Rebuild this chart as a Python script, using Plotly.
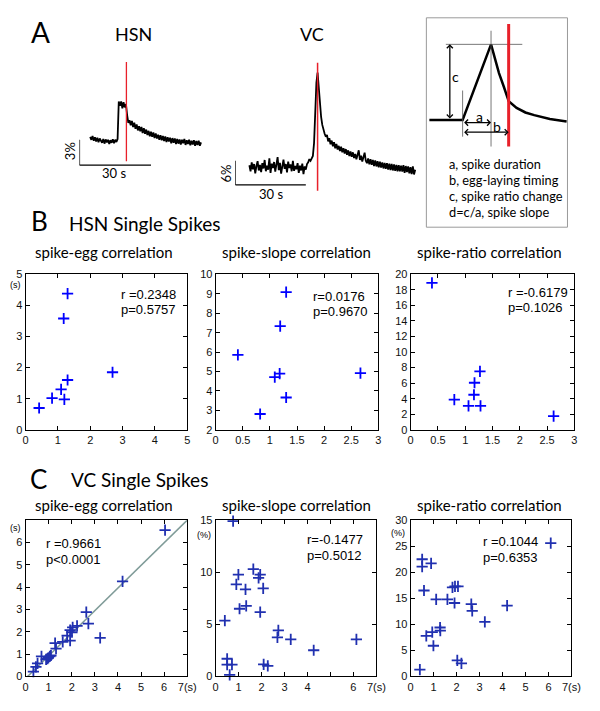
import numpy as np
import plotly.graph_objects as go

W, H = 600, 711

# ---------------- data ----------------
# Panel A: calcium traces (% dF/F), sampled every 0.5 s
HSN_T0, HSN_DT = 4.5, 0.5
HSN_VALUES = [0.45, 0.1, 0.55, 0.0, 0.4, -0.1, 0.35, -0.2, 0.25, 0.0, -0.25, 0.2, -0.35, 0.15, -0.2, 0.1,
              -0.4, 0.05, -0.25, 0.15, -0.3, 0.1, -0.15, 0.2,
              4.6, 4.1, 4.6, 3.8, 4.5, 3.9, 4.3, 3.0, 2.1,
              2.4, 1.8, 2.3, 1.6, 2.1, 1.4, 1.9, 1.2, 1.7, 1.1, 1.6, 0.9, 1.45, 0.8, 1.3, 0.65, 1.15, 0.5,
              1.05, 0.45, 0.95, 0.3, 0.85, 0.25, 0.7, 0.1, 0.65, 0.05, 0.55, -0.05, 0.5, -0.15, 0.4, -0.1,
              0.35, -0.3, 0.3, -0.25, 0.25, -0.4, 0.2, -0.35, 0.15, -0.45, 0.1, -0.3, 0.2, -0.5, 0.05,
              -0.4, 0.1, -0.55, 0.0, -0.45, 0.05, -0.6, -0.05, -0.5, 0.0, -0.6, -0.2]
HSN_EGG_T = 19.7

VC_T0, VC_DT = 6.0, 0.5
VC_VALUES = [0.5, -1.0, 1.2, -0.5, 0.8, -1.5, 0.3, 1.5, -0.8, 0.6, -1.2, 1.0, -0.3, 1.8, -1.0, 0.4,
             -0.6, 2.2, -1.4, 0.9, -0.2, 1.3, -1.1, 0.5, 2.5, -0.7, 1.1, -1.6, 0.6, 1.9, -0.4, 0.8,
             -1.3, 1.4, -0.2, 0.7, -1.0, 1.6, -0.9, 0.3, -0.5, 1.0, -1.4, 0.4, -0.8, 0.9, -1.7, 0.2,
             -0.6, 0.8,
             1.2, 2.0, 1.6, 2.4, 2.8,
             6.0, 14.0, 21.0, 23.5, 19.0, 15.5, 12.5, 10.5, 9.2, 8.3, 7.6,
             8.0, 6.4, 7.2, 5.7, 6.6, 5.2, 6.2, 4.7, 5.8, 4.4, 5.3, 4.0, 5.1, 3.7, 4.7, 3.4, 4.5, 3.1,
             4.2, 2.8, 3.9, 2.6, 3.7, 2.3, 3.3, 2.0, 3.6, 4.2, 1.8, 2.9, 1.4, 2.7, 3.6, 1.6, 1.0, 2.2,
             0.7, 2.0, 0.6, 1.8, 0.3, 1.7, 0.2, 1.5, 0.0, 1.4, -0.1, 1.2, -0.3, 1.1, -0.4, 1.0, -0.6,
             0.9, -0.7, 0.8, -0.8, 0.7, -0.9, 0.6, -1.0, 0.5, -1.0, 0.4, -1.1, 0.5, -1.4, 0.3, -1.2,
             0.2, -1.5, 0.0, -1.7, 0.2, -1.8, -0.6]
VC_EGG_T = 35.0

# schematic (arbitrary units: onset=0, peak time=1, peak height=1)
SCH_X = [-1.17, 0.0, 1.0, 1.14, 1.28, 1.45, 1.62, 1.90, 2.21, 2.52, 3.07, 3.66]
SCH_Y = [0.0, 0.0, 1.0, 0.79, 0.62, 0.44, 0.25, 0.16, 0.10, 0.065, 0.013, -0.02]
SCH_EGG = 1.62

# Panel B: HSN single spikes
B1_X = [1.30, 1.18, 2.69, 1.30, 1.10, 0.82, 1.20, 0.42]
B1_Y = [4.38, 3.58, 1.85, 1.60, 1.30, 1.02, 0.98, 0.70]
B2_X = [1.30, 1.19, 0.41, 1.18, 1.09, 2.67, 1.30, 0.82]
B2_Y = [9.09, 7.34, 5.85, 4.89, 4.71, 4.91, 3.66, 2.81]
B3_X = [0.39, 1.27, 1.17, 1.16, 0.80, 1.06, 1.28, 2.62]
B3_Y = [18.9, 7.52, 6.05, 4.50, 3.87, 3.07, 3.07, 1.76]

# Panel C: VC single spikes
C1_X = [6.04, 4.20, 2.63, 2.72, 3.23, 2.23, 2.04, 1.93, 1.80, 1.93, 2.01, 1.61, 1.28, 1.32,
        1.10, 0.99, 0.89, 0.69, 0.52, 0.45, 0.34, 0.95, 1.05]
C1_Y = [6.55, 4.26, 2.88, 2.37, 1.73, 2.27, 2.20, 2.08, 1.83, 1.61, 1.98, 1.55, 1.49, 1.25,
        0.94, 0.84, 0.77, 0.90, 0.59, 0.43, 0.22, 0.80, 0.90]
C2_X = [0.76, 1.64, 1.94, 0.99, 1.87, 0.90, 1.30, 2.07, 1.04, 1.33, 1.94, 0.40, 2.73, 2.69,
        3.27, 4.27, 6.13, 0.50, 0.50, 0.71, 0.61, 2.09, 2.27]
C2_Y = [14.9, 10.3, 9.78, 9.78, 9.46, 8.83, 8.36, 8.45, 6.50, 6.78, 6.18, 5.36, 4.42, 3.75,
        3.56, 2.52, 3.56, 1.70, 1.14, 1.14, 0.16, 1.17, 1.01]
C3_X = [6.10, 0.50, 0.50, 0.89, 0.58, 1.11, 1.60, 1.82, 1.93, 2.06, 1.91, 2.64, 2.68, 3.23,
        4.20, 1.28, 1.29, 0.94, 0.68, 0.99, 0.40, 2.03, 2.21]
C3_Y = [25.6, 22.5, 21.1, 21.7, 16.5, 14.8, 14.8, 17.1, 17.3, 17.3, 14.1, 13.9, 12.6, 10.5,
        13.6, 9.4, 8.8, 8.5, 7.8, 5.9, 1.3, 3.1, 2.5]

STATS = {
    "B1": ["r =0.2348", "p=0.5757"],
    "B2": ["r=0.0176", "p=0.9670"],
    "B3": ["r =-0.6179", "p=0.1026"],
    "C1": ["r =0.9661", "p&lt;0.0001"],
    "C2": ["r=-0.1477", "p=0.5012"],
    "C3": ["r =0.1044", "p=0.6353"],
}

# ---------------- helpers ----------------
def px(xp):
    return xp / W

def py(yp):
    return 1 - yp / H

TITLE_FONT = "Lato, Open Sans, sans-serif"
TICK_FONT = "Liberation Sans, Arial, sans-serif"
BLUE_B = "#0000ff"
BLUE_C = "#2030b0"

fig = go.Figure()

def ann(text, x, y, size, xanchor="center", yanchor="middle", font=TITLE_FONT, angle=0, ref=("paper", "paper")):
    fig.add_annotation(text=text, x=x, y=y, xref=ref[0], yref=ref[1], showarrow=False,
                       xanchor=xanchor, yanchor=yanchor, textangle=angle,
                       font=dict(family=font, size=size, color="black"))

def pann(text, xp, yp, size, **kw):
    ann(text, px(xp), py(yp), size, **kw)

axis_common = dict(showgrid=False, zeroline=False, showline=True, linecolor="black", linewidth=1,
                   mirror="ticks", ticks="inside", ticklen=4, tickwidth=1, tickcolor="black",
                   tickfont=dict(family=TICK_FONT, size=11, color="#111"))

layout = dict(width=W, height=H, margin=dict(l=0, r=0, t=0, b=0), paper_bgcolor="white",
              plot_bgcolor="white", showlegend=False)

panels = [
    ("B1", 1, (23, 188, 273, 431), [0, 5], [0, 1, 2, 3, 4, 5], None, [0, 5], [0, 1, 2, 3, 4, 5], None, B1_X, B1_Y, BLUE_B),
    ("B2", 2, (217, 383, 273, 431), [0, 3], [0, 0.5, 1, 1.5, 2, 2.5, 3], ["0", "0.5", "1", "1.5", "2", "2.5", "3"],
     [2, 10], [2, 3, 4, 5, 6, 7, 8, 9, 10], None, B2_X, B2_Y, BLUE_B),
    ("B3", 3, (416, 583, 273, 431), [0, 3], [0, 0.5, 1, 1.5, 2, 2.5, 3], ["0", "0.5", "1", "1.5", "2", "2.5", "3"],
     [0, 20], list(range(0, 21, 2)), None, B3_X, B3_Y, BLUE_B),
    ("C1", 4, (23, 188, 523, 682), [0, 7], list(range(8)), ["0", "1", "2", "3", "4", "5", "6", "7(s)"],
     [0, 7], list(range(7)), None, C1_X, C1_Y, BLUE_C),
    ("C2", 5, (217, 381, 523, 682), [0, 7], list(range(8)), ["0", "1", "2", "3", "4", "", "6", "7(s)"],
     [0, 15], [0, 5, 10, 15], None, C2_X, C2_Y, BLUE_C),
    ("C3", 6, (416, 580, 523, 682), [0, 7], list(range(8)), ["0", "1", "2", "3", "4", "5", "6", "7(s)"],
     [0, 30], list(range(0, 31, 5)), None, C3_X, C3_Y, BLUE_C),
]

for name, i, (x0, x1, y0, y1), xr, xt, xtt, yr, yt, ytt, X, Y, col in panels:
    xa = "xaxis" if i == 1 else f"xaxis{i}"
    ya = "yaxis" if i == 1 else f"yaxis{i}"
    xs = "x" if i == 1 else f"x{i}"
    ys = "y" if i == 1 else f"y{i}"
    layout[xa] = dict(axis_common, domain=[px(x0), px(x1)], range=xr, tickvals=xt,
                      ticktext=xtt if xtt else [str(v) for v in xt], anchor=ys)
    layout[ya] = dict(axis_common, domain=[py(y1), py(y0)], range=yr, tickvals=yt,
                      ticktext=ytt if ytt else [str(v) for v in yt], anchor=xs)
    if name == "C1":
        k, b = np.polyfit(C1_X, C1_Y, 1)
        fx = [0.0, 7.0]
        fig.add_trace(go.Scatter(x=fx, y=[k * v + b for v in fx], mode="lines",
                                 line=dict(color="#7f9b98", width=1.5), xaxis=xs, yaxis=ys,
                                 hoverinfo="skip"))
    fig.add_trace(go.Scatter(x=X, y=Y, mode="markers", xaxis=xs, yaxis=ys, cliponaxis=False,
                             marker=dict(symbol="cross-thin", size=8, line=dict(width=1.8, color=col))))

# ---- panel A axes ----
layout["xaxis7"] = dict(visible=False, domain=[px(78), px(208)], range=[0, 53.43], anchor="y7")
layout["yaxis7"] = dict(visible=False, domain=[py(170), py(50)], range=[-3.81, 10.03], anchor="x7")
layout["xaxis8"] = dict(visible=False, domain=[px(237), px(425)], range=[0, 78.33], anchor="y8")
layout["yaxis8"] = dict(visible=False, domain=[py(190), py(55)], range=[-6.34, 26.59], anchor="x8")
layout["xaxis9"] = dict(visible=False, domain=[px(432), px(576)], range=[-1.276, 3.69], anchor="y9")
layout["yaxis9"] = dict(visible=False, domain=[py(225), py(12)], range=[-1.416, 1.351], anchor="x9")

hsn_t = HSN_T0 + HSN_DT * np.arange(len(HSN_VALUES))
vc_t = VC_T0 + VC_DT * np.arange(len(VC_VALUES))
fig.add_trace(go.Scatter(x=hsn_t, y=HSN_VALUES, mode="lines", line=dict(color="black", width=1.8),
                         xaxis="x7", yaxis="y7"))
fig.add_trace(go.Scatter(x=vc_t, y=VC_VALUES, mode="lines", line=dict(color="black", width=1.8),
                         xaxis="x8", yaxis="y8"))
fig.add_trace(go.Scatter(x=SCH_X, y=SCH_Y, mode="lines", line=dict(color="black", width=2.5),
                         xaxis="x9", yaxis="y9"))

shapes = []
shapes.append(dict(type="line", xref="x7", yref="y7", x0=HSN_EGG_T, x1=HSN_EGG_T, y0=-2.42, y1=9.23,
                   line=dict(color="#e8202a", width=1.3)))
shapes.append(dict(type="line", xref="x8", yref="y8", x0=VC_EGG_T, x1=VC_EGG_T, y0=-5.85, y1=25.9,
                   line=dict(color="#e8202a", width=1.5)))
shapes.append(dict(type="line", xref="x7", yref="y7", x0=0, x1=30, y0=-2.88, y1=-2.88, line=dict(color="black", width=1.3)))
shapes.append(dict(type="line", xref="x7", yref="y7", x0=0, x1=0, y0=-2.88, y1=0.12, line=dict(color="black", width=1.3)))
shapes.append(dict(type="line", xref="x8", yref="y8", x0=0, x1=30, y0=-4.39, y1=-4.39, line=dict(color="black", width=1.3)))
shapes.append(dict(type="line", xref="x8", yref="y8", x0=0, x1=0, y0=-4.39, y1=1.61, line=dict(color="black", width=1.3)))
shapes.append(dict(type="rect", xref="paper", yref="paper", x0=px(432), x1=px(576), y0=py(225), y1=py(12),
                   line=dict(color="#9a9a9a", width=1)))
thin = dict(color="#555555", width=0.8)
shapes.append(dict(type="line", xref="x9", yref="y9", x0=1, x1=1, y0=-0.35, y1=1.18, line=thin))
shapes.append(dict(type="line", xref="x9", yref="y9", x0=-0.59, x1=2.10, y0=1, y1=1, line=thin))
shapes.append(dict(type="line", xref="x9", yref="y9", x0=0, x1=0, y0=-0.22, y1=0.39, line=thin))
shapes.append(dict(type="line", xref="x9", yref="y9", x0=SCH_EGG, x1=SCH_EGG, y0=-0.35, y1=1.27,
                   line=dict(color="#e8202a", width=3)))
layout["shapes"] = shapes

fig.update_layout(**layout)

def darrow(x0, y0, x1, y1):
    fig.add_annotation(x=x1, y=y1, ax=x0, ay=y0, xref="x9", yref="y9", axref="x9", ayref="y9",
                       text="", showarrow=True, arrowhead=4, startarrowhead=4, arrowside="end+start",
                       arrowsize=0.9, startarrowsize=0.9, arrowwidth=1.3, arrowcolor="black")

darrow(-0.45, 0.0, -0.45, 1.0)
darrow(0.0, -0.034, 1.0, -0.034)
darrow(0.0, -0.16, SCH_EGG, -0.16)
ann("c", -0.25, 0.575, 14, ref=("x9", "y9"))
ann("a", 0.59, 0.05, 14, ref=("x9", "y9"))
ann("b", 1.21, -0.09, 14, ref=("x9", "y9"))

# ---- text ----
pann("A", 38, 26, 28)
pann("HSN", 133, 28, 18)
pann("VC", 315, 28, 18)
pann("3%", 68, 148, 13, angle=-90)
pann("30 s", 113, 170, 13)
pann("6%", 228, 170, 13, angle=-90)
pann("30 s", 273, 191, 13)
for i, t in enumerate(["a, spike duration", "b, egg-laying timing", "c, spike ratio change", "d=c/a, spike slope"]):
    pann(t, 453, 161 + i * 16.3, 12.8, xanchor="left")

pann("B", 37, 219, 26)
pann("HSN Single Spikes", 65, 221, 19, xanchor="left")
pann("C", 36, 481, 26)
pann("VC Single Spikes", 67, 482, 19, xanchor="left")
for cx, lbl in [(103, "spike-egg correlation"), (299, "spike-slope correlation"), (496, "spike-ratio correlation")]:
    pann(lbl, cx, 250, 15)
    pann(lbl, cx, 508, 15)

stat_pos = {"B1": (118, 293), "B2": (314, 295), "B3": (513, 291),
            "C1": (42, 547), "C2": (308, 543), "C3": (488, 545)}
for k, (sx, sy) in stat_pos.items():
    pann(STATS[k][0], sx, sy, 13, xanchor="left", font=TICK_FONT)
    pann(STATS[k][1], sx, sy + 16, 13, xanchor="left", font=TICK_FONT)

pann("(s)", 13, 284, 9, font=TICK_FONT)
pann("(s)", 13, 531, 9, font=TICK_FONT)
pann("(%)", 205, 538, 9, font=TICK_FONT)
pann("(%)", 403, 536, 9, font=TICK_FONT)

fig.write_html("out.html", config={"displayModeBar": False},
               post_script="document.body.style.margin='0';document.body.style.overflow='hidden';")
